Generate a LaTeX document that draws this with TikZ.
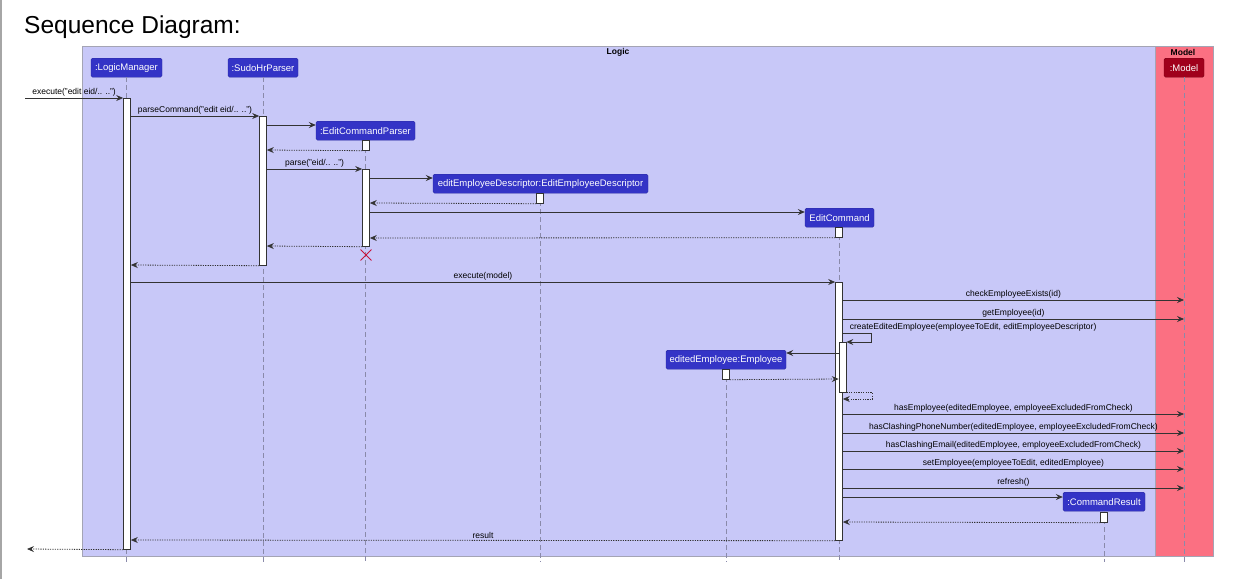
\documentclass[tikz,border=0pt]{standalone}
\usepackage{fontspec}
\setmainfont{Liberation Sans}
\usepackage{tikz}
\usetikzlibrary{arrows.meta,positioning,calc,shapes.misc}
\definecolor{logicbg}{HTML}{C8C8F8}
\definecolor{modelbg}{HTML}{FB7082}
\definecolor{partblue}{HTML}{3434C6}
\definecolor{partedge}{HTML}{2A2AA0}
\definecolor{partred}{HTML}{A0001C}
\definecolor{partrededge}{HTML}{7A0014}
\definecolor{lifeink}{HTML}{8A8AAA}
\definecolor{msgink}{HTML}{333333}
\definecolor{frameink}{HTML}{A4A4B4}
\definecolor{killink}{HTML}{C8143C}

\begin{document}
\begin{tikzpicture}[x=1pt,y=-1pt,
  part/.style={draw=partedge,fill=partblue,text=white,rounded corners=1.5pt,font=\fontsize{9.5}{11}\selectfont,minimum height=19pt,inner sep=0pt,anchor=north},
  act/.style={draw=msgink,fill=white,line width=0.7pt,minimum width=7pt,inner sep=0pt,anchor=north},
  life/.style={draw=lifeink,line width=0.6pt,dash pattern=on 5pt off 3pt},
  msg/.style={draw=msgink,line width=0.8pt,-{Stealth[length=7pt,width=6pt,inset=2.5pt]}},
  ret/.style={msg,dash pattern=on 1.2pt off 1.2pt},
  lbl/.style={font=\fontsize{8.5}{10}\selectfont,above,inner sep=1.5pt},
  frame/.style={draw=frameink,line width=0.8pt}
]
  \useasboundingbox (0,0) rectangle (1233,579);
  \fill[white] (0,0) rectangle (1233,579);
  \draw[gray!70,line width=1.5pt] (0.75,0) -- (0.75,579);
  \node[anchor=base west,inner sep=0pt,font=\fontsize{24.5}{28}\selectfont] (title) at (24,33) {Sequence Diagram:};

  % packages
  \draw[frame,fill=logicbg] (82,46) rectangle (1155,556);
  \draw[frame,fill=modelbg] (1155,46) rectangle (1213,556);
  \node[font=\bfseries\fontsize{8.5}{10}\selectfont] (logicT) at (618,52) {Logic};
  \node[font=\bfseries\fontsize{8.5}{10}\selectfont] (modelT) at (1183,52) {Model};

  % participants
  \node[part,minimum width=71pt]  (lm)  at (126.5,58) {:LogicManager};
  \node[part,minimum width=70pt]  (sp)  at (263,58)   {:SudoHrParser};
  \node[part,minimum width=99pt]  (ecp) at (365.5,121) {:EditCommandParser};
  \node[part,minimum width=215pt] (eed) at (540.5,174) {editEmployeeDescriptor:EditEmployeeDescriptor};
  \node[part,minimum width=69pt]  (ec)  at (839.5,208) {EditCommand};
  \node[part,minimum width=120pt] (ee)  at (726,350)   {editedEmployee:Employee};
  \node[part,minimum width=82pt]  (cr)  at (1104,492)  {:CommandResult};
  \node[part,draw=partrededge,fill=partred,minimum width=40pt] (mdl) at (1184,58) {:Model};

  % lifelines
  \foreach \p in {lm,sp,ecp,eed,ec,ee,cr,mdl}
    \draw[life] (\p.south) -- (\p.south |- 0,562);

  % activations
  \node[act,minimum height=451pt] (lmA)   at (127,98)    {};
  \node[act,minimum height=149pt] (spA)   at (263,116)   {};
  \node[act,minimum height=10pt]  (ecpA1) at (366,140)   {};
  \node[act,minimum height=77pt]  (ecpA2) at (366,169)   {};
  \node[act,minimum height=10pt]  (eedA)  at (540,193)   {};
  \node[act,minimum height=10pt]  (ecA1)  at (839,227)   {};
  \node[act,minimum height=258pt] (ecA2)  at (839,282)   {};
  \node[act,minimum height=50pt]  (ecA3)  at (842.5,342) {};
  \node[act,minimum height=10pt]  (eeA)   at (726,369)   {};
  \node[act,minimum height=10pt]  (crA)   at (1104,512)  {};
  \node[cross out,draw=killink,line width=0.9pt,minimum size=10pt,inner sep=0pt] (ecpX) at (366,255) {};

  % parsing
  \coordinate (src) at (25,98);
  \draw[msg] (src) -- node[lbl] {execute("edit eid/.. ..")} (lmA.north west);
  \draw[msg] (lmA.east |- 0,116) -- node[lbl] {parseCommand("edit eid/.. ..")} (spA.north west);
  \draw[msg] (spA.east |- 0,125) -- (ecp.west |- 0,125);
  \draw[ret] (ecpA1.south west) -- (spA.east |- 0,150);
  \draw[msg] (spA.east |- 0,169) -- node[lbl] {parse("eid/.. ..")} (ecpA2.north west);
  \draw[msg] (ecpA2.east |- 0,178) -- (eed.west |- 0,178);
  \draw[ret] (eedA.south west) -- (ecpA2.east |- 0,203);
  \draw[msg] (ecpA2.east |- 0,212) -- (ec.west |- 0,212);
  \draw[ret] (ecA1.south west) -- (ecpA2.east |- 0,238);
  \draw[ret] (ecpA2.south west) -- (spA.east |- 0,246);
  \draw[ret] (spA.south west) -- (lmA.east |- 0,265);

  % execution
  \draw[msg] (lmA.east |- 0,282) -- node[lbl] {execute(model)} (ecA2.north west);
  \draw[msg] (ecA2.east |- 0,300) -- node[lbl] {checkEmployeeExists(id)} (mdl.south |- 0,300);
  \draw[msg] (ecA2.east |- 0,319) -- node[lbl] {getEmployee(id)} (mdl.south |- 0,319);
  \draw[msg] (ecA2.east |- 0,333) node[lbl,anchor=south west,xshift=5pt] {createEditedEmployee(employeeToEdit, editEmployeeDescriptor)}
    -- ++(29,0) |- (ecA3.north east);
  \draw[msg] (ecA3.west |- 0,353) -- (ee.east |- 0,353);
  \draw[ret] (eeA.south east) -- (ecA3.west |- 0,379);
  \draw[ret] (ecA3.south east) -- ++(26,0) |- (ecA2.east |- 0,399);
  \draw[msg] (ecA2.east |- 0,414) -- node[lbl] {hasEmployee(editedEmployee, employeeExcludedFromCheck)} (mdl.south |- 0,414);
  \draw[msg] (ecA2.east |- 0,433) -- node[lbl] {hasClashingPhoneNumber(editedEmployee, employeeExcludedFromCheck)} (mdl.south |- 0,433);
  \draw[msg] (ecA2.east |- 0,451) -- node[lbl] {hasClashingEmail(editedEmployee, employeeExcludedFromCheck)} (mdl.south |- 0,451);
  \draw[msg] (ecA2.east |- 0,469) -- node[lbl] {setEmployee(employeeToEdit, editedEmployee)} (mdl.south |- 0,469);
  \draw[msg] (ecA2.east |- 0,488) -- node[lbl] {refresh()} (mdl.south |- 0,488);
  \draw[msg] (ecA2.east |- 0,497) -- (cr.west |- 0,497);
  \draw[ret] (crA.south west) -- (ecA2.east |- 0,522);
  \draw[ret] (ecA2.south west) -- node[lbl] {result} (lmA.east |- 0,540);
  \coordinate (sink) at (27,549);
  \draw[ret] (lmA.south west) -- (sink);
\end{tikzpicture}
\end{document}
